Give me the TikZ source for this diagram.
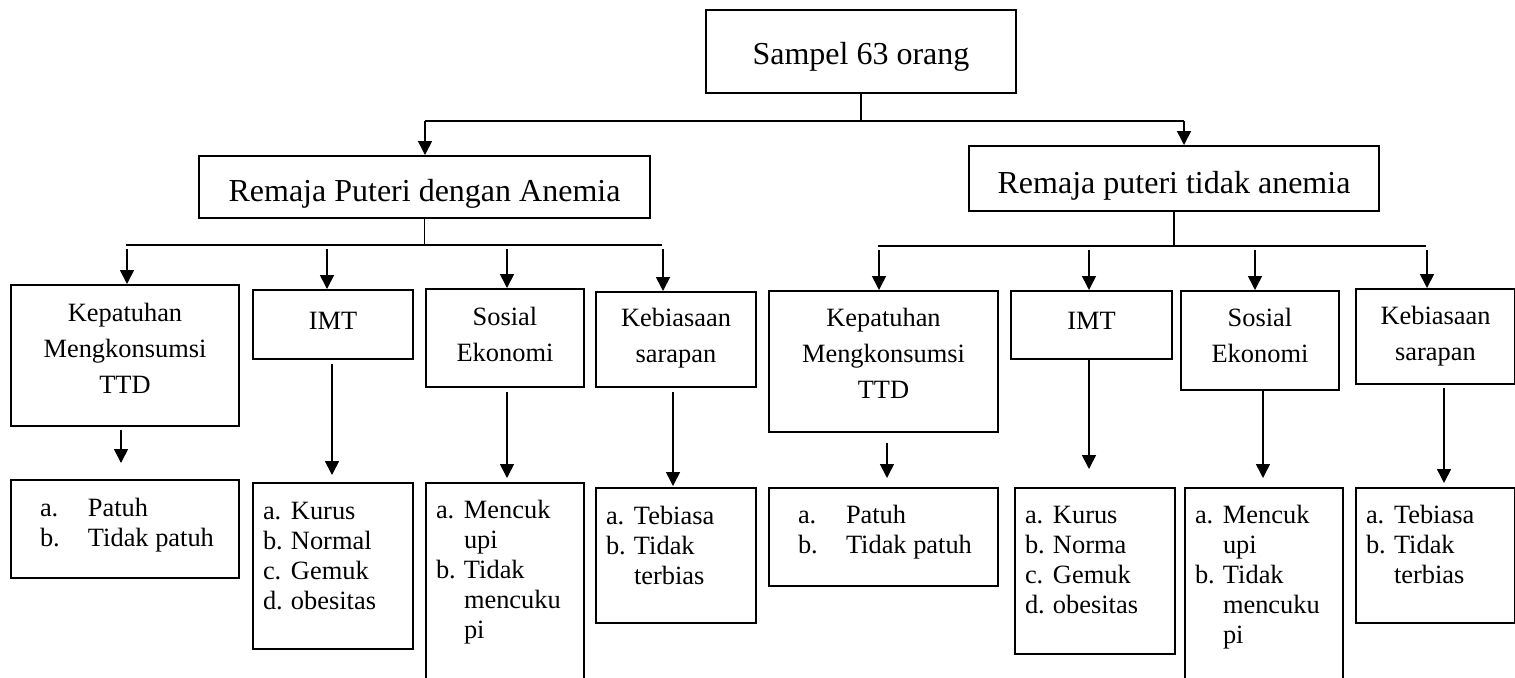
\documentclass[tikz,border=0pt]{standalone}
\usepackage{fontspec}
\setmainfont{Liberation Serif}
\usetikzlibrary{arrows.meta,calc}

\newcommand{\itm}[2]{\hspace*{5pt}\makebox[14pt][l]{#1}#2}
\newcommand{\itmw}[2]{\hspace*{14.5pt}\makebox[24pt][l]{#1}#2}

\tikzset{
    box/.style={draw, line width=1pt, inner sep=0pt, anchor=north west},
    sz/.style n args={3}{text width=#1pt, text height=#2pt, text depth=#3pt},
    head/.style={box, align=flush center, font=\fontsize{16}{19}\selectfont},
    var/.style={box, align=flush center, font=\fontsize{13.2}{18}\selectfont},
    cat/.style={box, align=flush left, font=\fontsize{13.2}{15}\selectfont},
    link/.style={line width=0.6pt},
    arr/.style={line width=0.8pt, -{Triangle[length=7pt,width=7pt]}},
}

\begin{document}
\begin{tikzpicture}[x=0.5pt, y=-0.5pt]
        \useasboundingbox (0,0) rectangle (1515,677);
        \clip (0,0) rectangle (1515,677);
        %% sample and groups
        \node[head, sz={155}{27}{14.5}] (smp) at (705,9) {Sampel 63 orang};
        \node[head, sz={225.5}{22.5}{8.5}] (anm) at (198,155) {Remaja Puteri dengan Anemia};
        \node[head, sz={205}{23.5}{9}] (tdk) at (968,145) {Remaja puteri tidak anemia};
        %% variables
        \node[var, sz={114}{18}{52.5}] (kepL) at (10,284) {Kepatuhan\\Mengkonsumsi\\TTD};
        \node[var, sz={80}{19.5}{15}] (imtL) at (252,289) {IMT};
        \node[var, sz={79}{18}{31}] (sosL) at (425,288) {Sosial\\Ekonomi};
        \node[var, sz={80}{17}{30.5}] (kebL) at (595,291) {Kebiasaan\\sarapan};
        \node[var, sz={114.5}{17.5}{53}] (kepR) at (768,290) {Kepatuhan\\Mengkonsumsi\\TTD};
        \node[var, sz={80.5}{19}{15}] (imtR) at (1010,290) {IMT};
        \node[var, sz={79}{17.5}{32}] (sosR) at (1180,290) {Sosial\\Ekonomi};
        \node[var, sz={79.5}{17.5}{30}] (kebR) at (1355,288) {Kebiasaan\\sarapan};
        %% categories
        \node[cat, sz={114}{18}{31}] (patL) at (10,479) {\itmw{a.}{Patuh}\\\itmw{b.}{Tidak patuh}};
        \node[cat, sz={80}{18}{65}] (kurL) at (252,482) {\itm{a.}{Kurus}\\\itm{b.}{Normal}\\\itm{c.}{Gemuk}\\\itm{d.}{obesitas}};
        \node[cat, sz={79}{17.5}{91.5}] (menL) at (425,482) {\itm{a.}{Mencuk}\\\itm{}{upi}\\\itm{b.}{Tidak}\\\itm{}{mencuku}\\\itm{}{pi}};
        \node[cat, sz={80}{18}{49.5}] (tebL) at (595,487) {\itm{a.}{Tebiasa}\\\itm{b.}{Tidak}\\\itm{}{terbias}};
        \node[cat, sz={114.5}{17.5}{31.5}] (patR) at (768,487) {\itmw{a.}{Patuh}\\\itmw{b.}{Tidak patuh}};
        \node[cat, sz={80}{17.5}{65.5}] (kurR) at (1014,487) {\itm{a.}{Kurus}\\\itm{b.}{Norma}\\\itm{c.}{Gemuk}\\\itm{d.}{obesitas}};
        \node[cat, sz={79}{17.5}{89}] (menR) at (1184,487) {\itm{a.}{Mencuk}\\\itm{}{upi}\\\itm{b.}{Tidak}\\\itm{}{mencuku}\\\itm{}{pi}};
        \node[cat, sz={79.5}{17.5}{50}] (tebR) at (1355,487) {\itm{a.}{Tebiasa}\\\itm{b.}{Tidak}\\\itm{}{terbias}};
        %% sample -> groups
        \coordinate (sA) at (425,121);
        \coordinate (sB) at (1184,121);
        \draw[link] (smp.south) -- (smp.south |- sA);
        \draw[link] (sA) -- (sB);
        \draw[arr] (sA) -- (sA |- anm.north);
        \draw[arr] (sB) -- (sB |- tdk.north);
        %% anemia -> variables
        \coordinate (aA) at (126,245);
        \coordinate (aB) at (662,245);
        \draw[link] (anm.south) -- (anm.south |- aA);
        \draw[link] (aA) -- (aB);
        \foreach \vb/\dx in {kepL/1pt,imtL/-3pt,sosL/1pt,kebL/-6.5pt}
            \draw[arr] ($(\vb.north |- aA)+(\dx,-2pt)$) -- ($(\vb.north)+(\dx,0pt)$);
        %% tidak anemia -> variables
        \coordinate (tA) at (878,246);
        \coordinate (tB) at (1426,246);
        \draw[link] (tdk.south) -- (tdk.south |- tA);
        \draw[link] (tA) -- (tB);
        \foreach \vb/\dx in {kepR/-2.25pt,imtR/-1.25pt,sosR/-2.5pt,kebR/-4.25pt}
            \draw[arr] ($(\vb.north |- tA)+(\dx,-2pt)$) -- ($(\vb.north)+(\dx,0pt)$);
        %% variables -> categories
        \foreach \va/\vb/\dx/\sa/\sb in {kepL/patL/-2pt/1.5pt/8pt, imtL/kurL/-0.5pt/2pt/3.5pt,
                sosL/menL/1pt/2pt/2pt, kebL/tebL/-1.5pt/2pt/0.5pt,
                kepR/patR/1.75pt/5pt/4.5pt, imtR/kurR/-1.25pt/0pt/9pt,
                sosR/menR/1.5pt/0pt/4.5pt, kebR/tebR/4.25pt/1.5pt/2pt}
            \draw[arr] ($(\va.south)+(\dx,-\sa)$) -- ($(\va.south |- \vb.north)+(\dx,\sb)$);
    \end{tikzpicture}
\end{document}
